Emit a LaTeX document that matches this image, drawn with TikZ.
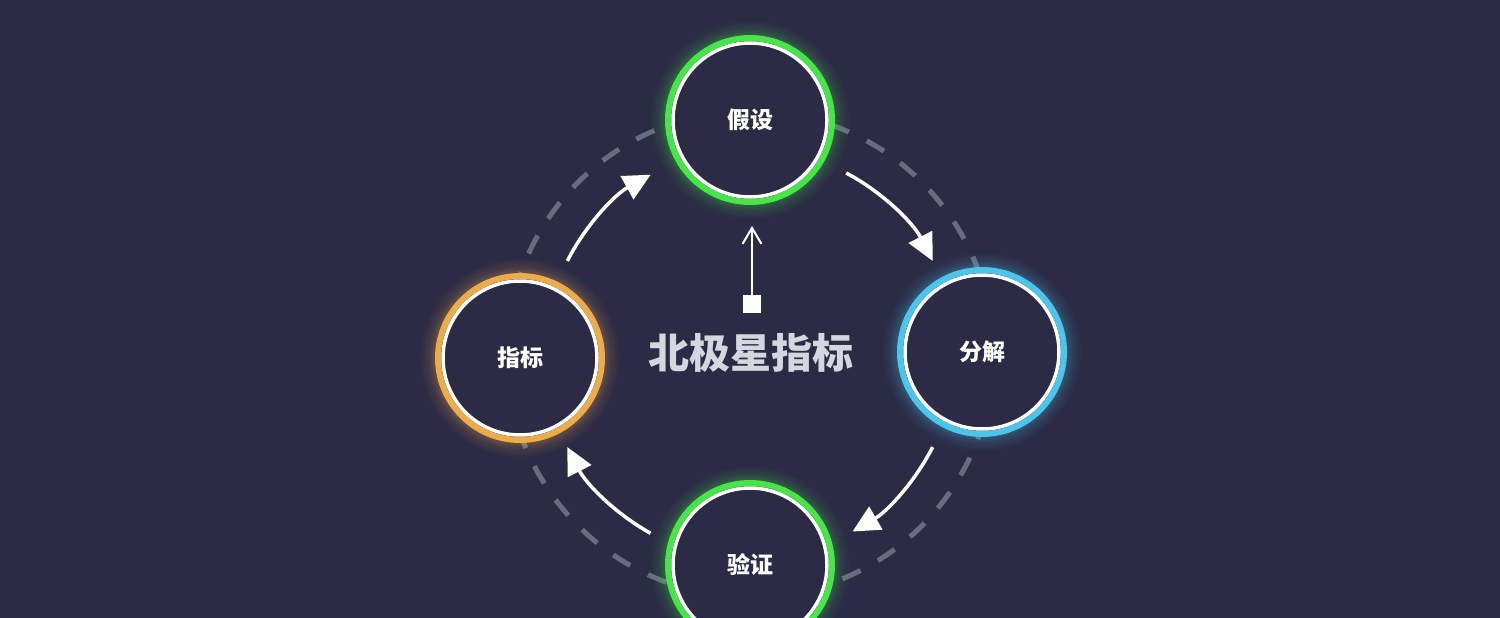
\documentclass[tikz,border=0pt]{standalone}
\usepackage{fontspec}
\newfontfamily\cjk{Noto Sans CJK SC}
\usetikzlibrary{arrows.meta}

\definecolor{bgnavy}{HTML}{2C2B45}
\definecolor{hypgreen}{HTML}{46E646}
\definecolor{decblue}{HTML}{4AC5EC}
\definecolor{metorange}{HTML}{EDAC47}
\definecolor{loopgray}{HTML}{6B6B7F}
\definecolor{titlegray}{HTML}{D6D6DE}

\tikzset{
	stage/.style={circle, minimum size=164, line width=6, draw=#1, fill=bgnavy, text=white,
		font=\cjk\bfseries\fontsize{23}{23}\selectfont,
		preaction={draw=#1, line width=34, opacity=0.03},
		preaction={draw=#1, line width=29, opacity=0.035},
		preaction={draw=#1, line width=24, opacity=0.04},
		preaction={draw=#1, line width=19, opacity=0.05},
		preaction={draw=#1, line width=15, opacity=0.06},
		preaction={draw=#1, line width=11, opacity=0.08}},
	inring/.style={white, line width=3.5},
	flow/.style={white, line width=3.5, -{Triangle[length=27,width=26]}},
}

\begin{document}
\begin{tikzpicture}[x=1pt,y=-1pt]
	\fill[bgnavy] (0,0) rectangle (1500,618);
	\useasboundingbox (0,0) rectangle (1500,618);
	\clip (0,0) rectangle (1500,618);

	\coordinate (hub) at (750,354);
	\draw[loopgray, line width=5, dash pattern=on 20 off 20] (hub) circle (243pt);

	\node[stage=hypgreen] (hyp) at (750,120) {假设};
	\node[stage=decblue] (dec) at (982,352) {分解};
	\node[stage=hypgreen] (ver) at (750,565) {验证};
	\node[stage=metorange] (met) at (520,358) {指标};

	\draw[inring] (hyp) circle (77pt);
	\draw[inring] (dec) circle (77pt);
	\draw[inring] (ver) circle (77pt);
	\draw[inring] (met) circle (77pt);

	\draw[flow] ([shift={(153:205pt)}]hub) arc[start angle=153, end angle=119, radius=205pt];
	\draw[flow] ([shift={(62:205pt)}]hub) arc[start angle=62, end angle=27, radius=205pt];
	\draw[flow] ([shift={(-27:205pt)}]hub) arc[start angle=-27, end angle=-60, radius=205pt];
	\draw[flow] ([shift={(-119:205pt)}]hub) arc[start angle=-119, end angle=-153, radius=205pt];

	\node[font=\cjk\bfseries\fontsize{41}{41}\selectfont, text=titlegray] (title) at (751,353) {北极星指标};

	\node[fill=white, minimum size=18, inner sep=0] (pin) at (752,304) {};
	\coordinate (pintip) at (752,226);
	\draw[white, line width=2, -{Straight Barb[length=16,width=19]}] (pin) -- (pintip);
\end{tikzpicture}
\end{document}
